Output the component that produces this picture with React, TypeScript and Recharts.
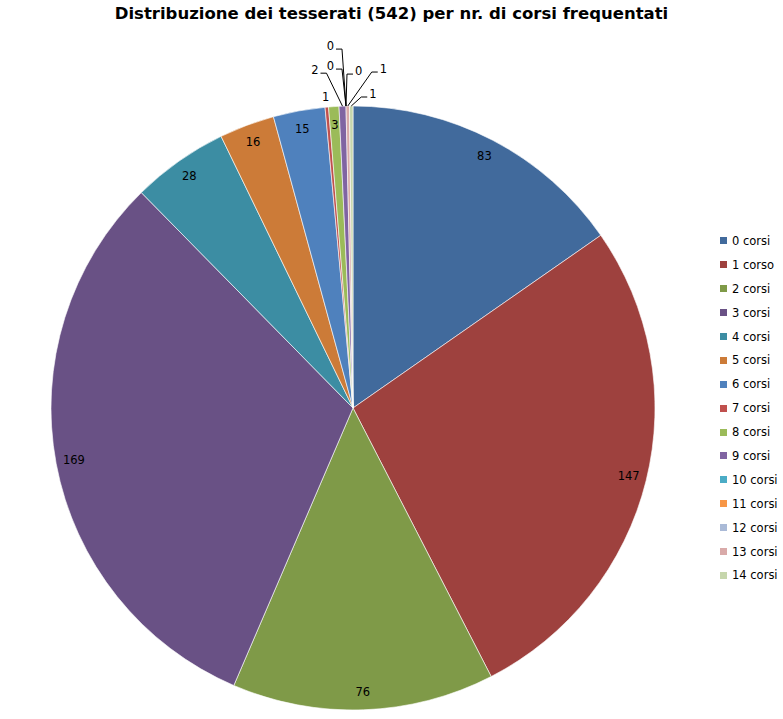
import { Cell, Legend, Pie, PieChart } from 'recharts';

// Distribuzione dei tesserati per numero di corsi frequentati (totale 542).
const CATEGORIES = [
  '0 corsi', '1 corso', '2 corsi', '3 corsi', '4 corsi', '5 corsi', '6 corsi', '7 corsi',
  '8 corsi', '9 corsi', '10 corsi', '11 corsi', '12 corsi', '13 corsi', '14 corsi',
];
const VALUES = [83, 147, 76, 169, 28, 16, 15, 1, 3, 2, 0, 0, 0, 1, 1];
const COLORS = [
  '#416A9C', '#9E413E', '#7F9A48', '#695185', '#3C8DA3', '#CC7B38', '#4F81BD', '#C0504D',
  '#9BBB59', '#8064A2', '#4BACC6', '#F79646', '#AABAD7', '#D9AAA9', '#C6D6AC',
];

// Tiny slices get a leader line: elbow offset from the slice edge + text side.
// null = label drawn inside the slice.
const CALLOUTS: ({ dx: number; dy: number; side: 'left' | 'right' | 'none' } | null)[] = [
  null, null, null, null, null, null, null,
  { dx: -1, dy: -10, side: 'none' },
  null,
  { dx: -16, dy: -33, side: 'left' },
  { dx: -4, dy: -37, side: 'left' },
  { dx: -4, dy: -57, side: 'left' },
  { dx: 1, dy: -32, side: 'right' },
  { dx: 24, dy: -34, side: 'right' },
  { dx: 10, dy: -9, side: 'right' },
];

const FONT = '"DejaVu Sans", Tahoma, sans-serif';
const RAD = Math.PI / 180;

const data = CATEGORIES.map((name, i) => ({ name, value: VALUES[i] }));

function renderLabel(props: any) {
  const { cx, cy, midAngle, outerRadius, index, value } = props;
  const cos = Math.cos(-midAngle * RAD);
  const sin = Math.sin(-midAngle * RAD);
  const call = CALLOUTS[index];
  if (!call) {
    const r = outerRadius - 18;
    return (
      <text x={cx + r * cos} y={cy + r * sin} textAnchor="middle" dominantBaseline="central"
        fontSize={11.5} fontFamily={FONT} fill="#000">
        {value}
      </text>
    );
  }
  const ex = cx + outerRadius * cos;
  const ey = cy + outerRadius * sin;
  const mx = ex + call.dx;
  const my = ey + call.dy;
  if (call.side === 'none') {
    return (
      <text x={mx} y={my} textAnchor="middle" dominantBaseline="central"
        fontSize={11.5} fontFamily={FONT} fill="#000">
        {value}
      </text>
    );
  }
  const dir = call.side === 'left' ? -1 : 1;
  const hx = mx + dir * 6;
  return (
    <g>
      <polyline points={`${ex},${ey} ${mx},${my} ${hx},${my}`} fill="none" stroke="#000" strokeWidth={1} />
      <text x={hx + dir * 2} y={my - 3} textAnchor={dir < 0 ? 'end' : 'start'} dominantBaseline="central"
        fontSize={11.5} fontFamily={FONT} fill="#000">
        {value}
      </text>
    </g>
  );
}

function LegendBox() {
  return (
    <div style={{ fontFamily: FONT, fontSize: 11.5 }}>
      {CATEGORIES.map((c, i) => (
        <div key={c} style={{ height: 23.9, display: 'flex', alignItems: 'center' }}>
          <span style={{ width: 7, height: 7, background: COLORS[i], display: 'inline-block', marginRight: 5 }} />
          <span>{c}</span>
        </div>
      ))}
    </div>
  );
}

export default function App() {
  return (
    <div style={{ position: 'absolute', left: 0, top: 0, width: 783, height: 719, background: '#fff' }}>
      <div style={{
        position: 'absolute', left: 0, top: 4, width: 783, textAlign: 'center',
        fontFamily: FONT, fontWeight: 'bold', fontSize: 16.5, color: '#000',
      }}>
        Distribuzione dei tesserati (542) per nr. di corsi frequentati
      </div>
      <PieChart width={783} height={719} margin={{ top: 0, right: 0, bottom: 0, left: 0 }}>
        <Pie
          data={data}
          dataKey="value"
          nameKey="name"
          cx={353}
          cy={408}
          outerRadius={302}
          startAngle={90}
          endAngle={-270}
          stroke="#fff"
          strokeWidth={0.6}
          label={renderLabel}
          labelLine={false}
          isAnimationActive={false}
        >
          {data.map((d, i) => (
            <Cell key={d.name} fill={COLORS[i]} />
          ))}
        </Pie>
        <Legend
          layout="vertical"
          content={() => <LegendBox />}
          wrapperStyle={{ position: 'absolute', left: 720, top: 229, width: 63 }}
        />
      </PieChart>
    </div>
  );
}
